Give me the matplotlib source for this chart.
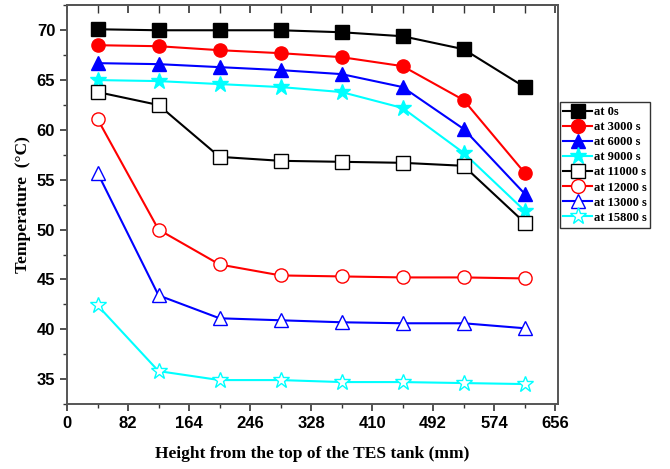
import matplotlib.pyplot as plt
from matplotlib.ticker import MultipleLocator

height = [41, 123, 205, 287, 369, 451, 533, 615]

t_0 = [70.1, 70.0, 70.0, 70.0, 69.8, 69.4, 68.1, 64.3]
t_3000 = [68.5, 68.4, 68.0, 67.7, 67.3, 66.4, 63.0, 55.7]
t_6000 = [66.7, 66.6, 66.3, 66.0, 65.6, 64.3, 60.1, 53.6]
t_9000 = [65.0, 64.9, 64.6, 64.3, 63.8, 62.2, 57.7, 51.9]
t_11000 = [63.8, 62.5, 57.3, 56.9, 56.8, 56.7, 56.4, 50.7]
t_12000 = [61.1, 50.0, 46.5, 45.4, 45.3, 45.2, 45.2, 45.1]
t_13000 = [55.7, 43.4, 41.1, 40.9, 40.7, 40.6, 40.6, 40.1]
t_15800 = [42.4, 35.8, 34.9, 34.9, 34.7, 34.7, 34.6, 34.5]

labels = ["at 0s", "at 3000 s", "at 6000 s", "at 9000 s",
          "at 11000 s", "at 12000 s", "at 13000 s", "at 15800 s"]
series = [t_0, t_3000, t_6000, t_9000, t_11000, t_12000, t_13000, t_15800]
colors = ["black", "red", "blue", "cyan", "black", "red", "blue", "cyan"]
markers = ["s", "o", "^", "*", "s", "o", "^", "*"]
filled = [True, True, True, True, False, False, False, False]

fig = plt.figure(figsize=(6.7, 4.69), dpi=100)
ax = fig.add_axes([0.1, 0.1386, 0.733, 0.850])

for y, lab, c, m, f in zip(series, labels, colors, markers, filled):
    ms = 12 if m == "*" else 9.5
    ax.plot(height, y, color=c, marker=m, markersize=ms, linewidth=1.5,
            markerfacecolor=c if f else "white", markeredgecolor=c,
            markeredgewidth=1.0, label=lab)

ax.set_xlim(0, 660)
ax.set_ylim(32.5, 72.5)
ax.xaxis.set_major_locator(MultipleLocator(82))
ax.xaxis.set_minor_locator(MultipleLocator(41))
ax.yaxis.set_major_locator(MultipleLocator(5))
ax.yaxis.set_minor_locator(MultipleLocator(2.5))
ax.tick_params(axis="both", which="major", length=5, width=1.2, color="#333333",
               direction="out")
ax.tick_params(axis="both", which="minor", length=3, width=1.0, color="#333333",
               direction="out")

# top axis: inward ticks, no labels
top = ax.secondary_xaxis("top")
top.xaxis.set_major_locator(MultipleLocator(82))
top.xaxis.set_minor_locator(MultipleLocator(41))
top.tick_params(which="major", direction="in", length=6, width=1.2,
                color="#333333", labeltop=False)
top.tick_params(which="minor", direction="in", length=6, width=1.0,
                color="#333333")
top.spines["top"].set_color("#555555")
top.spines["top"].set_linewidth(1.4)

for lab in ax.get_xticklabels() + ax.get_yticklabels():
    lab.set_family("Liberation Sans")
    lab.set_fontweight("bold")
    lab.set_fontsize(12)

for s in ax.spines.values():
    s.set_color("#555555")
    s.set_linewidth(1.4)

ax.set_xlabel("Height from the top of the TES tank (mm)", family="Liberation Serif",
              fontweight="bold", fontsize=12.5, labelpad=11)
ax.set_ylabel("Temperature  (\u00b0C)", family="Liberation Serif",
              fontweight="bold", fontsize=12.5, labelpad=4)

leg = ax.legend(loc="upper left", bbox_to_anchor=(1.003, 0.757), frameon=True,
                fancybox=False, edgecolor="black", handlelength=2.3,
                handletextpad=0.15, borderpad=0.3, labelspacing=0.25,
                borderaxespad=0.0, markerscale=1.05,
                prop={"family": "Liberation Serif", "weight": "bold", "size": 9})
leg.get_frame().set_linewidth(1.0)

fig.savefig("out.png", dpi=100)
